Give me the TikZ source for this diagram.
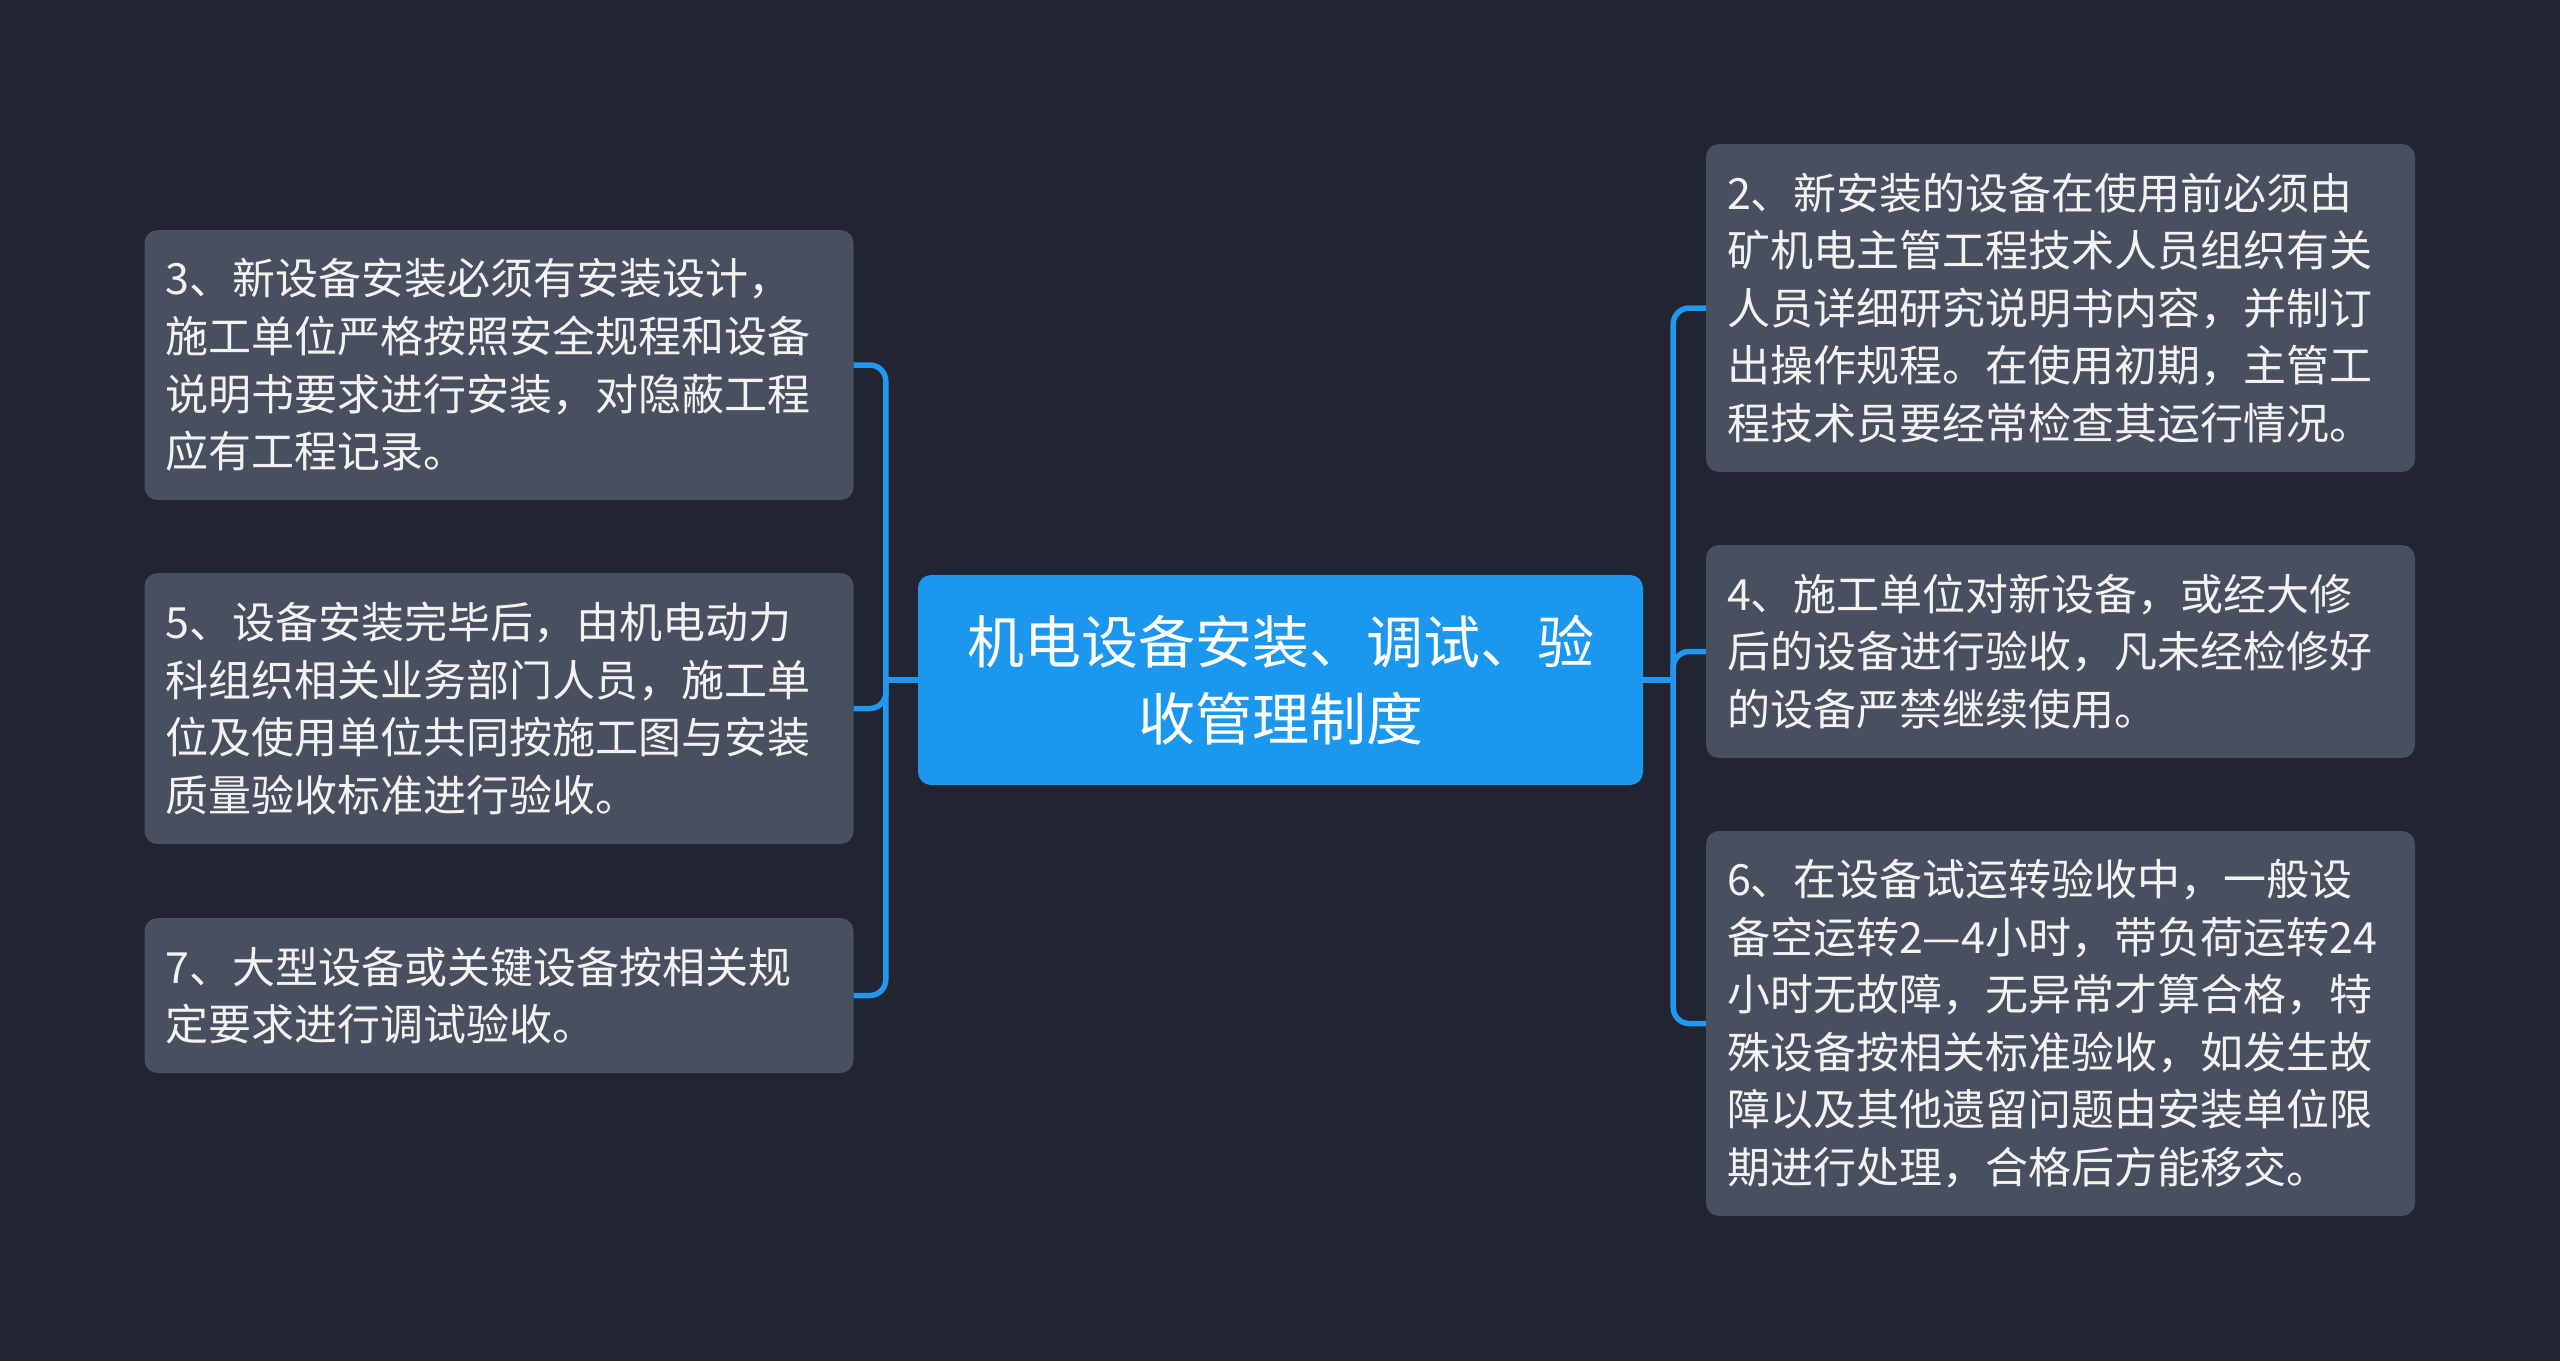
\documentclass[tikz,border=0pt]{standalone}
\usepackage{fontspec}
\newfontfamily\cjk{Noto Sans CJK SC}
\usetikzlibrary{calc}
\definecolor{bgdark}{RGB}{33,37,49}
\definecolor{leafgray}{RGB}{72,79,94}
\definecolor{rootblue}{RGB}{27,152,238}
\definecolor{linkblue}{RGB}{33,150,243}
\definecolor{txtwhite}{RGB}{242,242,242}
\tikzset{
  leaf/.style={fill=leafgray, rounded corners=13pt, inner xsep=21pt, inner ysep=0pt,
    text width=667pt, align=left, text=txtwhite, font=\cjk\fontsize{43}{57.6}\selectfont},
  rootbox/.style={fill=rootblue, rounded corners=13pt, minimum width=725pt, minimum height=210pt,
    align=center, text=white, font=\cjk\fontsize{57}{77}\selectfont},
  link/.style={draw=linkblue, line width=5.5pt, rounded corners=16pt}
}
\begin{document}
\begin{tikzpicture}[x=1pt,y=-1pt]
%set diagram size to 2560 x 1361
\fill[bgdark] (0,0) rectangle (2560,1361);
\useasboundingbox (0,0) rectangle (2560,1361);

%Shape: Root
\node[rootbox] (root) at (1280.5,680) {机电设备安装、调试、验\\收管理制度};

%Shape: Left leaves
\node[leaf, minimum height=270pt] (n3) at (499,365) {3、新设备安装必须有安装设计，\\施工单位严格按照安全规程和设备\\说明书要求进行安装，对隐蔽工程\\应有工程记录。};
\node[leaf, minimum height=271pt] (n5) at (499,708.5) {5、设备安装完毕后，由机电动力\\科组织相关业务部门人员，施工单\\位及使用单位共同按施工图与安装\\质量验收标准进行验收。};
\node[leaf, minimum height=155pt] (n7) at (499,995.5) {7、大型设备或关键设备按相关规\\定要求进行调试验收。};

%Shape: Right leaves
\node[leaf, minimum height=328pt] (n2) at (2060.5,308) {2、新安装的设备在使用前必须由\\矿机电主管工程技术人员组织有关\\人员详细研究说明书内容，并制订\\出操作规程。在使用初期，主管工\\程技术员要经常检查其运行情况。};
\node[leaf, minimum height=213pt] (n4) at (2060.5,651.5) {4、施工单位对新设备，或经大修\\后的设备进行验收，凡未经检修好\\的设备严禁继续使用。};
\node[leaf, minimum height=385pt] (n6) at (2060.5,1023.5) {6、在设备试运转验收中，一般设\\备空运转2—4小时，带负荷运转24\\小时无故障，无异常才算合格，特\\殊设备按相关标准验收，如发生故\\障以及其他遗留问题由安装单位限\\期进行处理，合格后方能移交。};

%Straight Lines: trunks
\coordinate (lj) at ($(root.west)+(-32,0)$);
\coordinate (rj) at ($(root.east)+(30,0)$);
\draw[link] (root.west) -- (lj);
\draw[link] (root.east) -- (rj);
%Curve Lines: branches
\foreach \n in {n3,n5,n7}
  \draw[link] (lj) |- (\n.east);
\foreach \n in {n2,n4,n6}
  \draw[link] (rj) |- (\n.west);

\end{tikzpicture}
\end{document}
